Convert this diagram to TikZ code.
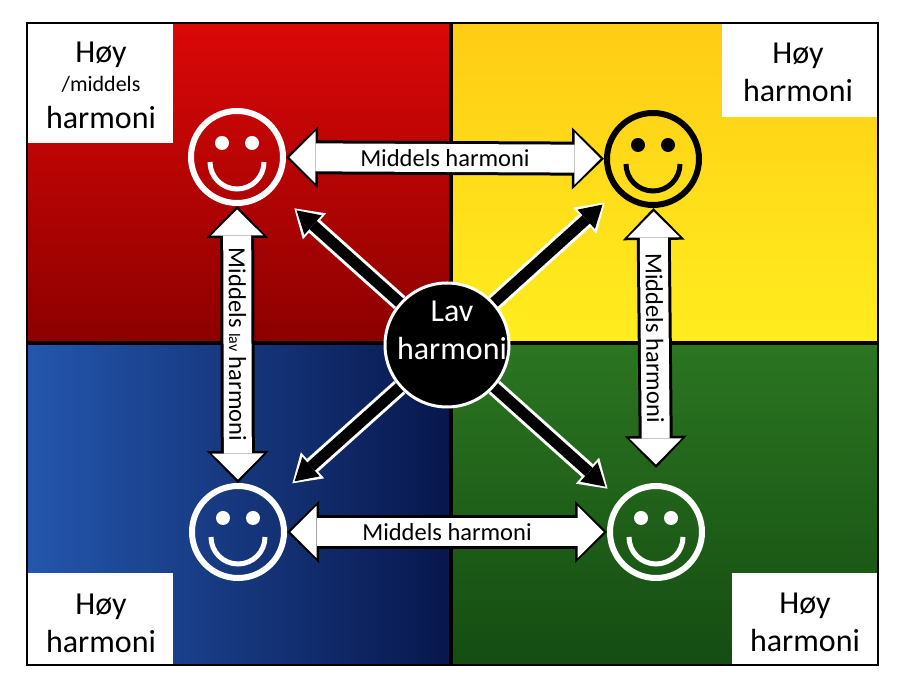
\documentclass[tikz,border=0pt]{standalone}
\usepackage{fontspec}
\setmainfont{Carlito}
\usetikzlibrary{arrows.meta,calc}
\definecolor{RedTopClr}{rgb}{0.86,0.03,0.03}
\definecolor{RedBotClr}{rgb}{0.55,0,0}
\definecolor{YellowTopClr}{rgb}{1,0.80,0.08}
\definecolor{YellowBotClr}{rgb}{1,0.93,0.12}
\definecolor{BlueLeftClr}{rgb}{0.14,0.34,0.68}
\definecolor{BlueRightClr}{rgb}{0.03,0.09,0.30}
\definecolor{GreenTopClr}{rgb}{0.17,0.46,0.13}
\definecolor{GreenBotClr}{rgb}{0.08,0.30,0.07}

\begin{document}
\begin{tikzpicture}[x=1pt,y=1pt]
\tikzset{
  smiley/.style={circle,draw=#1,line width=6pt,minimum size=92pt,inner sep=0pt,
    path picture={
      \fill[#1] ($(path picture bounding box.center)+(-15,14)$) circle (7);
      \fill[#1] ($(path picture bounding box.center)+(15,14)$) circle (7);
      \draw[#1,line width=5pt] ($(path picture bounding box.center)+(-27,-5)$)
        arc[start angle=180,end angle=360,radius=27];}},
  lavcircle/.style={circle,fill=black,draw=white,line width=3pt,minimum size=124pt},
  boxtext/.style={align=center,inner sep=0pt,font=\fontsize{32}{38}\selectfont},
  arrowtext/.style={inner sep=0pt,text=black,font=\fontsize{24.5}{29}\selectfont},
  fatout/.style={line width=34pt,black,
    {Triangle[length=32pt,width=62pt,line width=0pt]}-{Triangle[length=32pt,width=62pt,line width=0pt]}},
  fatin/.style={line width=28pt,white,shorten <=3.5pt,shorten >=3.5pt,
    {Triangle[length=26pt,width=52pt,line width=0pt]}-{Triangle[length=26pt,width=52pt,line width=0pt]}},
  diagout/.style={line width=17pt,white,-{Triangle[length=27pt,width=35pt,line width=0pt]}},
  diagin/.style={line width=11pt,black,-{Triangle[length=22pt,width=26pt,line width=0pt]}}
}
\useasboundingbox (0,0) rectangle (900,677);
\fill[white] (0,0) rectangle (900,677);

\shade[top color=RedTopClr,bottom color=RedBotClr] (27,334) rectangle (451,654);
\shade[top color=YellowTopClr,bottom color=YellowBotClr] (451,334) rectangle (878,654);
\shade[left color=BlueLeftClr,right color=BlueRightClr] (27,12) rectangle (451,334);
\shade[top color=GreenTopClr,bottom color=GreenBotClr] (451,12) rectangle (878,334);

\draw[line width=4pt] (451,12) -- (451,654);
\draw[line width=4pt] (27,334) -- (878,334);

\fill[white] (27,534) rectangle (173,654);
\fill[white] (722,560) rectangle (878,654);
\fill[white] (27,12) rectangle (173,104);
\fill[white] (732,12) rectangle (878,104);
\draw[line width=2pt] (27,12) rectangle (878,654);

\node[boxtext] (tlbox) at (101,592) {Høy\\[-9pt]{\fontsize{22}{26}\selectfont/middels}\\[-1pt]harmoni};
\node[boxtext] (trbox) at (798,605) {Høy\\harmoni};
\node[boxtext] (blbox) at (101,54) {Høy\\harmoni};
\node[boxtext] (brbox) at (805,55) {Høy\\harmoni};

\node[smiley=white] (tl) at (237,520) {};
\node[smiley=black] (tr) at (653,518) {};
\node[smiley=white] (bl) at (238,145) {};
\node[smiley=white] (br) at (656,145) {};
\node[lavcircle] (lav) at (447,332) {};
\node[boxtext,text=white] (lavtext) at (452,347) {Lav\\harmoni};

\coordinate (brtop) at ([yshift=15pt]br.north);

\draw[fatout] (tl) -- (tr);
\draw[fatin] (tl) -- (tr) node[midway,sloped,arrowtext] {Middels harmoni};
\draw[fatout] (bl) -- (br);
\draw[fatin] (bl) -- (br) node[midway,sloped,arrowtext] {Middels harmoni};
\draw[fatout] (tl) -- (bl);
\draw[fatin] (tl) -- (bl) node[midway,sloped,arrowtext] {Middels {\fontsize{16}{19}\selectfont lav} harmoni};
\draw[fatout] (tr) -- (brtop);
\draw[fatin] (tr) -- (brtop) node[midway,sloped,arrowtext] {Middels harmoni};

\foreach \s/\g/\h in {tl/28pt/31pt,tr/16pt/19pt,bl/24pt/27pt,br/16pt/19pt}{
  \draw[diagout,shorten >=\g] (lav) -- (\s);
  \draw[diagin,shorten >=\h] (lav) -- (\s);
}

\end{tikzpicture}
\end{document}
